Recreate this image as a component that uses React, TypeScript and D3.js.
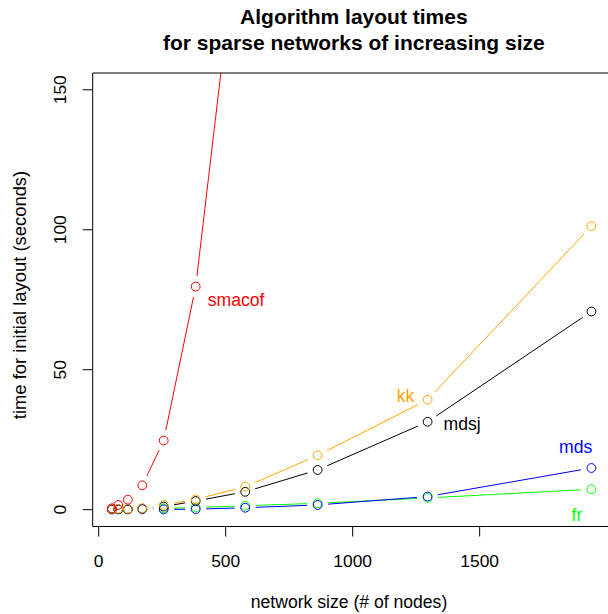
import React from "react";
import * as d3 from "d3";

const sizes = [52, 77, 115, 172, 256, 382, 577, 862, 1295, 1940];
const smacof = [0.5, 1.7, 3.6, 8.7, 24.7, 79.7, 230];
const kk = [0.3, 0.3, 0.3, 0.5, 1.7, 3.7, 8.2, 19.4, 39.3, 101.3];
const mdsj = [0.2, 0.2, 0.2, 0.4, 1.1, 3.1, 6.4, 14.2, 31.4, 70.8];
const mds = [0.1, 0.1, 0.1, 0.2, 0.1, 0.2, 0.7, 1.7, 4.7, 14.9];
const fr = [0.1, 0.2, 0.2, 0.3, 0.5, 0.8, 1.4, 2.3, 4.2, 7.3];

const xTicks = [0, 500, 1000, 1500];
const yTicks = [0, 50, 100, 150];
const yLimits = [0, 150];

const seriesNames = ["fr", "mds", "mdsj", "kk", "smacof"];
const seriesValues = [fr, mds, mdsj, kk, smacof];
const seriesColors = ["#00FF00", "#0000FF", "#000000", "#FFA500", "#FF0000"];

// label annotations, in data units (text centre x, baseline y)
const labelX = [1883, 1878, 1431, 1208, 541];
const labelY = [-3.9, 20.4, 28.3, 38.6, 72.7];

const titleLines = ["Algorithm layout times", "for sparse networks of increasing size"];
const xTitle = "network size (# of nodes)";
const yTitle = "time for initial layout (seconds)";

const W = 608;
const H = 614;
const left = 92.7;
const right = 610.6;
const top = 73;
const bottom = 526.5;
const FONT = "'Liberation Sans', Arial, Helvetica, sans-serif";
const GAP = 10.5;
const R = 4.4;

export default function App() {
  const xMin = d3.min(sizes)!;
  const xMax = d3.max(sizes)!;
  const xPad = 0.04 * (xMax - xMin);
  const x = d3.scaleLinear().domain([xMin - xPad, xMax + xPad]).range([left, right]);
  const yPad = 0.04 * (yLimits[1] - yLimits[0]);
  const y = d3.scaleLinear().domain([yLimits[0] - yPad, yLimits[1] + yPad]).range([bottom, top]);

  const segs = (vals: number[]) => {
    const pts = vals.map((v, i) => [x(sizes[i]), y(v)]);
    const out: string[] = [];
    for (let i = 0; i < pts.length - 1; i++) {
      const [x0, y0] = pts[i];
      const [x1, y1] = pts[i + 1];
      const dx = x1 - x0;
      const dy = y1 - y0;
      const d = Math.hypot(dx, dy);
      if (d <= 2 * GAP) continue;
      const ux = dx / d;
      const uy = dy / d;
      const p = d3.path();
      p.moveTo(x0 + ux * GAP, y0 + uy * GAP);
      p.lineTo(x1 - ux * GAP, y1 - uy * GAP);
      out.push(p.toString());
    }
    return out;
  };

  const tickLen = 10;
  const cx = (left + 615) / 2;

  return (
    <svg
      width={W}
      height={H}
      style={{ position: "absolute", left: 0, top: 0, background: "#fff" }}
      fontFamily={FONT}
    >
      <defs>
        <clipPath id="plotClip">
          <rect x={left} y={top} width={right - left} height={bottom - top} />
        </clipPath>
      </defs>
      <rect x={0} y={0} width={W} height={H} fill="#fff" />
      {/* title */}
      <text x={cx} y={24} textAnchor="middle" fontWeight="bold" fontSize={21}>
        {titleLines[0]}
      </text>
      <text x={cx} y={50} textAnchor="middle" fontWeight="bold" fontSize={21}>
        {titleLines[1]}
      </text>

      {/* series */}
      <g clipPath="url(#plotClip)">
        {seriesValues.map((vals, si) => (
          <g key={seriesNames[si]} stroke={seriesColors[si]} fill="none" strokeWidth={1}>
            {segs(vals).map((d, i) => (
              <path key={i} d={d} />
            ))}
            {vals.map((v, i) => (
              <circle key={i} cx={x(sizes[i])} cy={y(v)} r={R} />
            ))}
          </g>
        ))}
      </g>

      {/* labels */}
      {seriesNames.map((n, i) => (
        <text
          key={n}
          x={x(labelX[i])}
          y={y(labelY[i])}
          textAnchor="middle"
          fontSize={17.6}
          fill={seriesColors[i]}
        >
          {n}
        </text>
      ))}

      {/* box */}
      <path
        d={`M${right + 10},${top}H${left}V${bottom}H${right + 10}`}
        fill="none"
        stroke="#000"
        strokeWidth={1}
      />

      {/* x axis */}
      <g>
        {xTicks.map((t) => (
          <g key={t}>
            <line x1={x(t)} x2={x(t)} y1={bottom} y2={bottom + tickLen} stroke="#000" />
            <text x={x(t)} y={566.7} textAnchor="middle" fontSize={17.4}>
              {t}
            </text>
          </g>
        ))}
      </g>
      {/* y axis */}
      <g>
        {yTicks.map((t) => (
          <g key={t}>
            <line x1={left} x2={left - tickLen} y1={y(t)} y2={y(t)} stroke="#000" />
            <text
              transform={`translate(${66},${y(t)}) rotate(-90)`}
              textAnchor="middle"
              fontSize={17.4}
            >
              {t}
            </text>
          </g>
        ))}
      </g>

      <text x={349} y={608} textAnchor="middle" fontSize={17.6}>
        {xTitle}
      </text>
      <text transform={`translate(26,295) rotate(-90)`} textAnchor="middle" fontSize={18.4}>
        {yTitle}
      </text>
    </svg>
  );
}
